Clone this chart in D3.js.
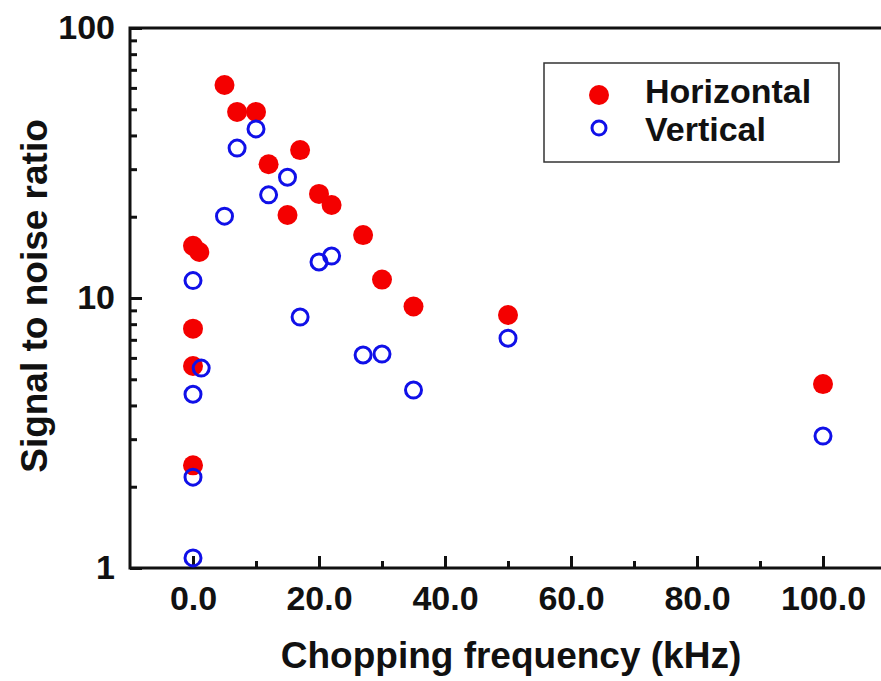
<!DOCTYPE html>
<html>
<head>
<meta charset="utf-8">
<script src="https://cdn.jsdelivr.net/npm/d3@7"></script>
<style>
  body { margin: 0; background: #fff; }
  text { font-family: "Liberation Sans", Arial, sans-serif; font-weight: bold; fill: #111; }
</style>
</head>
<body>
<div id="chart"></div>
<script>
// frequency (kHz) and signal-to-noise values
const horizontalFreq = [0, 1, 0, 0, 0, 5, 7, 10, 12, 15, 17, 20, 22, 27, 30, 35, 50, 100];
const horizontalSnr = [15.6, 14.8, 7.7, 5.6, 2.4, 61.5, 48.9, 48.9, 31.3, 20.3, 35.3, 24.3, 22.1, 17.1, 11.7, 9.3, 8.65, 4.8];

const verticalFreq = [0, 1.3, 0, 0, 0, 5, 7, 10, 12, 15, 17, 20, 22, 27, 30, 35, 50, 100];
const verticalSnr = [11.6, 5.5, 4.4, 2.17, 1.09, 20.1, 35.9, 42.3, 24.1, 28.0, 8.5, 13.6, 14.3, 6.15, 6.2, 4.56, 7.1, 3.08];

const xMajorTicks = [0, 20, 40, 60, 80, 100];
const xMinorTicks = [10, 30, 50, 70, 90];
const yMajorTicks = [1, 10, 100];
const yMinorTicks = [2, 3, 4, 5, 6, 7, 8, 9, 20, 30, 40, 50, 60, 70, 80, 90];

const seriesNames = ["Horizontal", "Vertical"];

function render() {
  const width = 881;
  const height = 681;
  const left = 130, top = 28, bottom = 568, right = 886;

  const svg = d3.select("#chart").append("svg")
    .attr("width", width)
    .attr("height", height);

  const x = d3.scaleLinear().domain([-10, 110]).range([left, right]);
  const y = d3.scaleLog().domain([1, 100]).range([bottom, top]);

  // x axis
  const xAxis = svg.append("g")
    .attr("transform", `translate(0, ${bottom})`)
    .call(d3.axisBottom(x).tickValues(xMajorTicks).tickSize(-12).tickPadding(18)
      .tickFormat(d3.format(".1f")));
  svg.append("g")
    .attr("transform", `translate(0, ${bottom})`)
    .call(d3.axisBottom(x).tickValues(xMinorTicks).tickSize(-7).tickFormat(""));

  // y axis
  svg.append("g")
    .attr("transform", `translate(${left}, 0)`)
    .call(d3.axisLeft(y).tickValues(yMajorTicks).tickSize(-12).tickPadding(15)
      .tickFormat(d3.format("d")));
  svg.append("g")
    .attr("transform", `translate(${left}, 0)`)
    .call(d3.axisLeft(y).tickValues(yMinorTicks).tickSize(-7).tickFormat(""));

  svg.selectAll(".domain").remove();
  svg.selectAll(".tick line").attr("stroke", "#111").attr("stroke-width", 3);
  svg.selectAll(".tick text")
    .attr("font-size", 34)
    .attr("fill", "#111");
  xAxis.selectAll(".tick text").attr("dy", "0.71em");

  // frame
  svg.append("path")
    .attr("d", `M${left},${top}H${right}M${left},${top}V${bottom}H${right}`)
    .attr("fill", "none")
    .attr("stroke", "#111")
    .attr("stroke-width", 3)
    .attr("stroke-linecap", "square");

  // data
  const horizontal = horizontalFreq.map((f, i) => ({ f, v: horizontalSnr[i] }));
  const vertical = verticalFreq.map((f, i) => ({ f, v: verticalSnr[i] }));

  svg.append("g").selectAll("circle")
    .data(horizontal)
    .join("circle")
    .attr("cx", d => x(d.f))
    .attr("cy", d => y(d.v))
    .attr("r", 10)
    .attr("fill", "#f40000");

  svg.append("g").selectAll("circle")
    .data(vertical)
    .join("circle")
    .attr("cx", d => x(d.f))
    .attr("cy", d => y(d.v))
    .attr("r", 8)
    .attr("fill", "none")
    .attr("stroke", "#1010e8")
    .attr("stroke-width", 3);

  // legend
  const legend = svg.append("g");
  legend.append("rect")
    .attr("x", 544).attr("y", 63)
    .attr("width", 295).attr("height", 99)
    .attr("fill", "#fff")
    .attr("stroke", "#333")
    .attr("stroke-width", 1.5);
  legend.append("circle")
    .attr("cx", 599).attr("cy", 95).attr("r", 10)
    .attr("fill", "#f40000");
  legend.append("circle")
    .attr("cx", 599).attr("cy", 128).attr("r", 7)
    .attr("fill", "none")
    .attr("stroke", "#1010e8")
    .attr("stroke-width", 3);
  legend.selectAll("text.label")
    .data(seriesNames)
    .join("text")
    .attr("class", "label")
    .attr("x", 645)
    .attr("y", (d, i) => i === 0 ? 103 : 141)
    .attr("font-size", 34)
    .text(d => d);

  // axis titles
  svg.append("text")
    .attr("x", 511)
    .attr("y", 668)
    .attr("text-anchor", "middle")
    .attr("font-size", 37)
    .text("Chopping frequency (kHz)");

  svg.append("text")
    .attr("transform", "translate(47, 296) rotate(-90)")
    .attr("text-anchor", "middle")
    .attr("font-size", 37)
    .text("Signal to noise ratio");
}

document.addEventListener("DOMContentLoaded", render);
</script>
</body>
</html>
